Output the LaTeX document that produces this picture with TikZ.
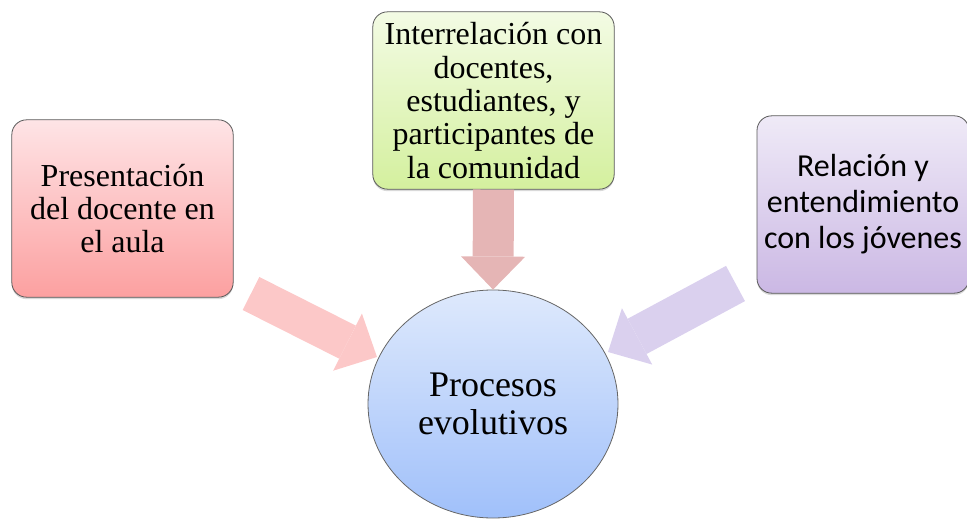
\documentclass[tikz,border=0pt]{standalone}
\usepackage{fontspec}
\setmainfont{Liberation Serif}
\newfontfamily\calibrifont{Carlito}
\usetikzlibrary{arrows.meta,shapes.geometric,shadows}

\definecolor{redtop}{RGB}{254,228,230}
\definecolor{redbot}{RGB}{252,160,160}
\definecolor{greentop}{RGB}{243,251,228}
\definecolor{greenbot}{RGB}{212,240,158}
\definecolor{violettop}{RGB}{239,234,247}
\definecolor{violetbot}{RGB}{203,184,228}
\definecolor{bluetop}{RGB}{222,233,252}
\definecolor{bluebot}{RGB}{160,192,250}
\definecolor{redarrow}{RGB}{252,200,200}
\definecolor{pinkarrow}{RGB}{229,181,181}
\definecolor{violetarrow}{RGB}{218,208,238}

\begin{document}
\begin{tikzpicture}[line join=round, x=0.75pt, y=-0.75pt]
  \useasboundingbox (0,0) rectangle (967,520);
  \tikzset{
    box/.style={rectangle, rounded corners=11pt, draw=black!65, line width=0.6pt,
      align=center, inner sep=2pt,
      drop shadow={opacity=0.3, shadow xshift=0pt, shadow yshift=-1.5pt}},
    serif/.style={font=\fontsize{24}{25}\selectfont},
    sans/.style={font=\calibrifont\fontsize{24}{27}\selectfont},
    bigserif/.style={font=\fontsize{27}{29}\selectfont},
    fat/.style={line cap=butt, -{Triangle[line width=0pt, length=24.75pt, width=48pt]}}
  }

  % --- coordinates (pixel grid of the figure)
  \coordinate (P) at (122.5,208.5);
  \coordinate (I) at (493.5,100.5);
  \coordinate (R) at (863,204.5);
  \coordinate (C) at (493,404);

  \coordinate (PT) at (251,293.5);
  \coordinate (PH) at (377,357);
  \coordinate (RT) at (735.5,283.5);
  \coordinate (RH) at (608,352);

  % --- boxes
  \node[box, serif, top color=redtop, bottom color=redbot,
        minimum width=166pt, minimum height=133pt] (pres) at (P)
        {Presentación\\del docente en\\el aula};

  \node[box, serif, top color=greentop, bottom color=greenbot,
        minimum width=181pt, minimum height=133pt] (inter) at (I)
        {Interrelación con\\docentes,\\estudiantes, y\\participantes de\\la comunidad};

  \node[box, sans, top color=violettop, bottom color=violetbot,
        minimum width=159pt, minimum height=133pt] (rel) at (R)
        {Relación y\\entendimiento\\con los jóvenes};

  % --- centre
  \node[ellipse, draw=black!60, line width=0.6pt, bigserif, align=center,
        top color=bluetop, bottom color=bluebot,
        minimum width=187.5pt, minimum height=171pt] (proc) at (C)
        {Procesos\\evolutivos};

  % --- block arrows
  \draw[fat, redarrow, line width=27.75pt] (PT) -- (PH);
  \draw[fat, pinkarrow, line width=30.75pt] (inter.south) -- (proc.north);
  \draw[fat, violetarrow, line width=30pt] (RT) -- (RH);

\end{tikzpicture}
\end{document}
